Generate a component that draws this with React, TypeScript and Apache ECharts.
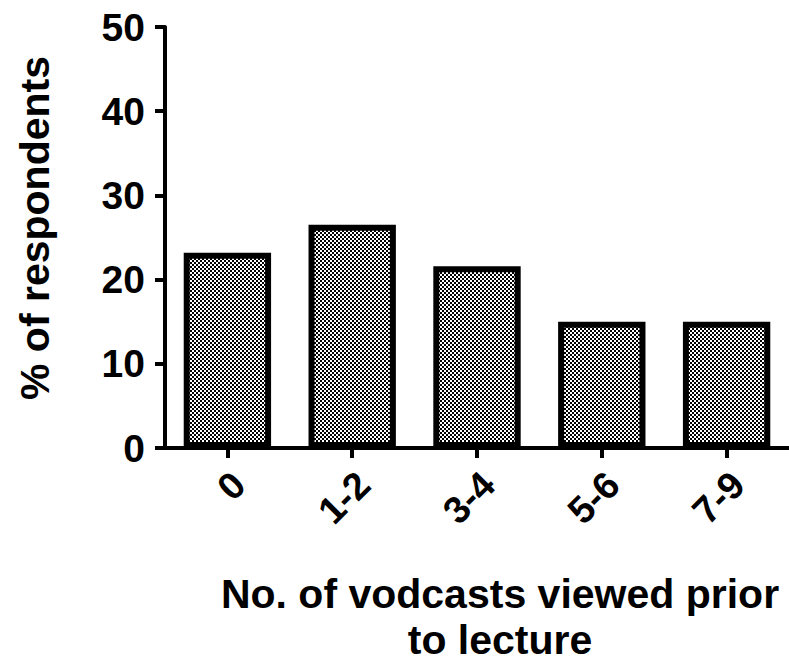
import React, { useEffect, useRef } from "react";
import * as echarts from "echarts";

const categories = ["0", "1-2", "3-4", "5-6", "7-9"];
const percentRespondents = [23.2, 26.5, 21.6, 15.0, 15.0];
const yTicks = { min: 0, max: 50, interval: 10 };
const yTitle = "% of respondents";
const xTitle = "No. of vodcasts viewed prior\nto lecture";

const FONT = "'Liberation Sans', Arial, sans-serif";

export default function App() {
  const ref = useRef<HTMLDivElement>(null);

  useEffect(() => {
    if (!ref.current) return;
    const chart = echarts.init(ref.current, null, { renderer: "svg" });

    const cv = document.createElement("canvas");
    cv.width = 4;
    cv.height = 4;
    const ctx = cv.getContext("2d");
    if (ctx) {
      ctx.fillStyle = "#ffffff";
      ctx.fillRect(0, 0, 4, 4);
      ctx.fillStyle = "#000000";
      ctx.fillRect(0, 0, 2, 2);
      ctx.fillRect(2, 2, 2, 2);
    }

    chart.setOption({
      animation: false,
      backgroundColor: "#ffffff",
      grid: { left: 165, top: 27, width: 632, bottom: 214, containLabel: false },
      xAxis: {
        type: "category",
        data: categories,
        axisLine: { show: true, lineStyle: { color: "#000", width: 4 } },
        axisTick: { show: true, alignWithLabel: true, length: 10, lineStyle: { color: "#000", width: 4 } },
        axisLabel: {
          rotate: 45,
          margin: 19,
          align: "right",
          verticalAlign: "top",
          lineHeight: 32,
          color: "#000",
          fontSize: 38,
          fontWeight: "bold",
          fontFamily: FONT,
        },
        splitLine: { show: false },
      },
      yAxis: {
        type: "value",
        min: yTicks.min,
        max: yTicks.max,
        interval: yTicks.interval,
        axisLine: { show: true, lineStyle: { color: "#000", width: 4 } },
        axisTick: { show: true, length: 10, lineStyle: { color: "#000", width: 4 } },
        axisLabel: {
          margin: 20,
          color: "#000",
          fontSize: 39,
          fontWeight: "bold",
          fontFamily: FONT,
        },
        splitLine: { show: false },
      },
      graphic: [
        {
          type: "text",
          x: 35,
          y: 228,
          rotation: Math.PI / 2,
          style: {
            text: yTitle,
            align: "center",
            verticalAlign: "middle",
            fill: "#000",
            font: `bold 41px ${FONT}`,
          },
        },
        {
          type: "text",
          x: 500,
          y: 617,
          style: {
            text: xTitle,
            align: "center",
            verticalAlign: "middle",
            lineHeight: 46,
            fill: "#000",
            font: `bold 41px ${FONT}`,
          },
        },
      ],
      series: [
        {
          type: "bar",
          data: percentRespondents,
          barCategoryGap: "30%",
          itemStyle: {
            color: { image: cv, repeat: "repeat", imageWidth: 4, imageHeight: 4 },
            borderColor: "#000",
            borderWidth: 6,
          },
        },
      ],
    });

    return () => chart.dispose();
  }, []);

  return (
    <div
      ref={ref}
      style={{ position: "absolute", left: 0, top: 0, width: 789, height: 662 }}
    />
  );
}
